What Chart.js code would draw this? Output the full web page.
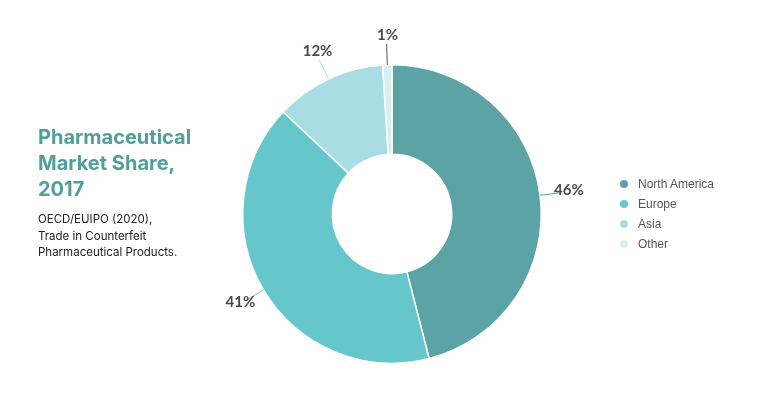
<!DOCTYPE html>
<html>
<head>
<meta charset="utf-8">
<script src="https://cdn.jsdelivr.net/npm/chart.js@4.4.0/dist/chart.umd.min.js"></script>
<style>
    body { margin: 0; background: #fff; }
    #wrap { position: relative; width: 767px; height: 406px; overflow: hidden; }
    #chart { position: absolute; left: 0; top: 0; }
    #heading { position: absolute; left: 38px; top: 124px; font-family: Inter, 'Noto Sans', sans-serif; }
    #heading h1 { margin: 0; font-size: 20px; line-height: 26px; font-weight: 700; color: #519e9b; }
    #heading p { margin: 9px 0 0 0; font-size: 11.5px; line-height: 16.5px; color: #222; }
    #legend { position: absolute; left: 620px; top: 174px; font-family: 'Helvetica', 'Liberation Sans', sans-serif; font-size: 12px; color: #555; }
    #legend div { height: 20px; line-height: 20px; white-space: nowrap; }
    #legend span { display: inline-block; width: 8px; height: 8px; border-radius: 50%; margin-right: 10px; vertical-align: 0px; }
</style>
</head>
<body>
<div id="wrap">
    <canvas id="chart" width="767" height="406"></canvas>
    <div id="heading">
        <h1>Pharmaceutical<br>Market Share,<br>2017</h1>
        <p>OECD/EUIPO (2020),<br>Trade in Counterfeit<br>Pharmaceutical Products.</p>
    </div>
    <div id="legend"></div>
</div>
<script>
// Data
const regions = ['North America', 'Europe', 'Asia', 'Other'];
const shares = [46, 41, 12, 1];
const sliceColors = ['#5ba3a4', '#65c7cc', '#a8dde3', '#d6eff2'];
const leaderColors = ['#5ba3a4', '#65c7cc', '#a8dde3', '#555555'];

// HTML legend
const legendEl = document.getElementById('legend');
regions.forEach(function(name, i) {
    const row = document.createElement('div');
    row.innerHTML = '<span style="background:' + sliceColors[i] + '"></span>' + name;
    legendEl.appendChild(row);
});

// Outside labels with leader lines
const outsideLabels = {
    id: 'outsideLabels',
    afterDatasetsDraw: function(chart) {
        const ctx = chart.ctx;
        const meta = chart.getDatasetMeta(0);
        ctx.save();
        ctx.font = "bold 15px Lato, 'Noto Sans', sans-serif";
        ctx.textAlign = 'center';
        ctx.textBaseline = 'middle';
        meta.data.forEach(function(arc, i) {
            const p = arc.getProps(['x', 'y', 'startAngle', 'endAngle', 'outerRadius'], true);
            const mid = (p.startAngle + p.endAngle) / 2;
            const dx = Math.cos(mid), dy = Math.sin(mid);
            const r = p.outerRadius;
            ctx.strokeStyle = leaderColors[i];
            ctx.lineWidth = 1;
            ctx.beginPath();
            ctx.moveTo(p.x + dx * r, p.y + dy * r);
            ctx.lineTo(p.x + dx * (r + 21), p.y + dy * (r + 21));
            ctx.stroke();
            ctx.fillStyle = '#4a4a4a';
            ctx.fillText(shares[i] + '%', p.x + dx * (r + 28) + 1, p.y + dy * (r + 28) - 2);
        });
        ctx.restore();
    }
};

const ctx = document.getElementById('chart').getContext('2d');
const shareChart = new Chart(ctx, {
    type: 'doughnut',
    data: {
        labels: regions,
        datasets: [{
            data: shares,
            backgroundColor: sliceColors,
            borderColor: '#ffffff',
            borderWidth: 1.5
        }]
    },
    options: {
        responsive: false,
        animation: false,
        cutout: '40%',
        layout: {
            padding: { top: 64, bottom: 42, left: 242, right: 225 }
        },
        plugins: {
            legend: { display: false },
            tooltip: { enabled: false }
        }
    },
    plugins: [outsideLabels]
});
</script>
</body>
</html>
